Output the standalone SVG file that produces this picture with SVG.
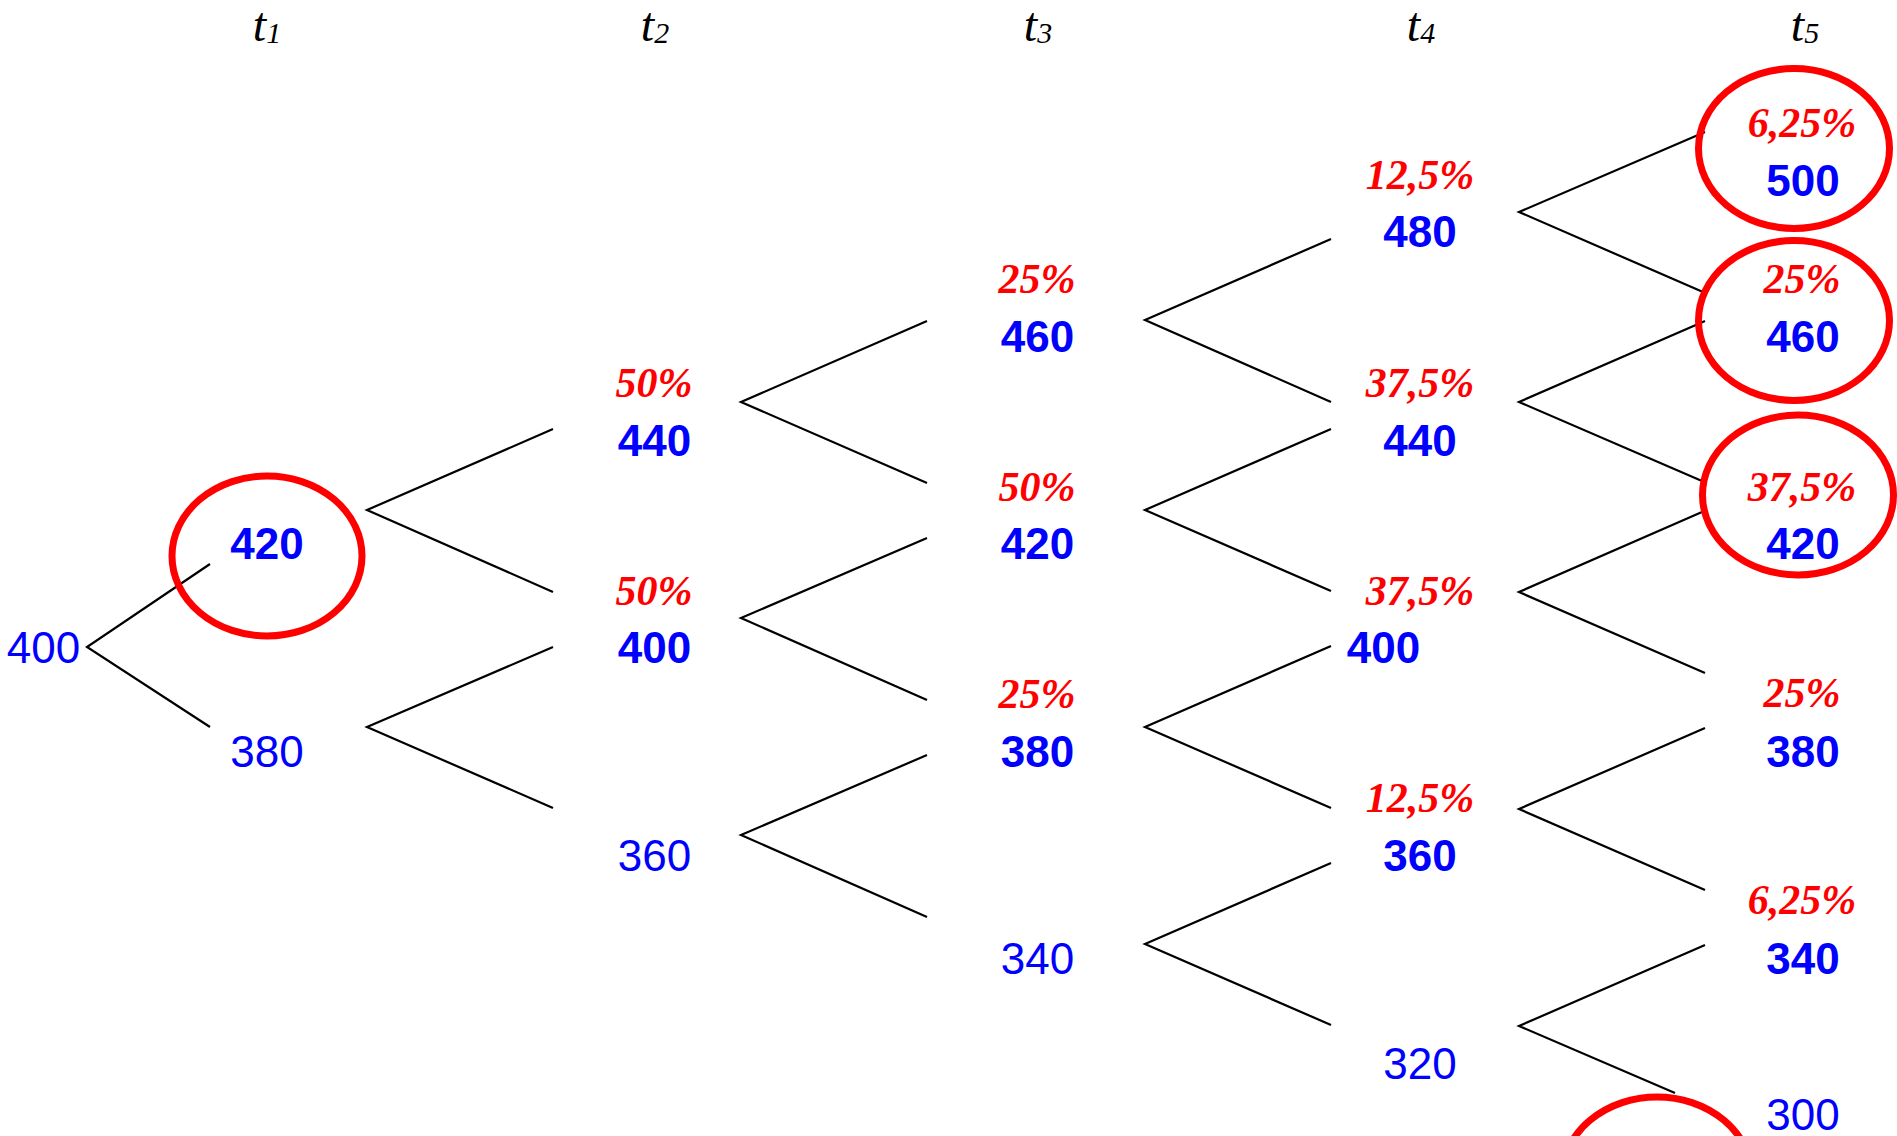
<svg xmlns="http://www.w3.org/2000/svg" width="1897" height="1136" viewBox="0 0 1897 1136">
<style>
.hdr{font-family:"Liberation Serif","Times New Roman",serif;font-style:italic;font-size:48px;fill:#000;text-anchor:middle}
.sub{font-size:30px}
.num{font-family:"Liberation Sans",Arial,sans-serif;font-size:44px;fill:#0000FF;text-anchor:middle}
.b{font-weight:bold}
.pct{font-family:"Liberation Serif","Times New Roman",serif;font-style:italic;font-weight:bold;font-size:42px;fill:#FF0000;text-anchor:middle}
.ring{fill:none;stroke:#FF0000;stroke-width:7}
.fork{fill:none;stroke:#000;stroke-width:2.2;stroke-linejoin:miter}
</style>
<rect width="1897" height="1136" fill="#fff"/>

<g id="headers">
<text class="hdr" x="267" y="41">t<tspan class="sub" dy="2">1</tspan></text>
<text class="hdr" x="655" y="41">t<tspan class="sub" dy="2">2</tspan></text>
<text class="hdr" x="1038" y="41">t<tspan class="sub" dy="2">3</tspan></text>
<text class="hdr" x="1421" y="41">t<tspan class="sub" dy="2">4</tspan></text>
<text class="hdr" x="1805" y="41">t<tspan class="sub" dy="2">5</tspan></text>
</g>

<g id="connectors">
<polyline class="fork" points="210,564 87,647 210,727"/>
<polyline class="fork" points="553,429 367,510 553,592"/>
<polyline class="fork" points="553,647 367,727 553,808"/>
<polyline class="fork" points="927,321 741,402 927,483"/>
<polyline class="fork" points="927,538 741,618 927,700"/>
<polyline class="fork" points="927,755 741,835 927,917"/>
<polyline class="fork" points="1331,239 1145,320 1331,402"/>
<polyline class="fork" points="1331,429 1145,510 1331,591"/>
<polyline class="fork" points="1331,646 1145,727 1331,808"/>
<polyline class="fork" points="1331,863 1145,944 1331,1025"/>
<polyline class="fork" points="1705,132 1519,212 1703,292"/>
<polyline class="fork" points="1705,321 1519,402 1702,481"/>
<polyline class="fork" points="1702,512 1519,592 1705,673"/>
<polyline class="fork" points="1705,728 1519,809 1705,890"/>
<polyline class="fork" points="1705,945 1519,1026 1675,1093"/>
</g>

<g id="n_root"><text class="num" x="43.5" y="663">400</text></g>

<g id="n_t1_420"><text class="num b" x="267" y="559">420</text><ellipse class="ring" cx="267" cy="556" rx="95" ry="80"/></g>
<g id="n_t1_380"><text class="num" x="267" y="767">380</text></g>

<g id="n_t2_440"><text class="pct" x="654" y="397">50%</text><text class="num b" x="654.5" y="456">440</text></g>
<g id="n_t2_400"><text class="pct" x="654" y="605">50%</text><text class="num b" x="654.5" y="663">400</text></g>
<g id="n_t2_360"><text class="num" x="654.5" y="871">360</text></g>

<g id="n_t3_460"><text class="pct" x="1037" y="293">25%</text><text class="num b" x="1037.5" y="352">460</text></g>
<g id="n_t3_420"><text class="pct" x="1037" y="501">50%</text><text class="num b" x="1037.5" y="559">420</text></g>
<g id="n_t3_380"><text class="pct" x="1037" y="708">25%</text><text class="num b" x="1037.5" y="767">380</text></g>
<g id="n_t3_340"><text class="num" x="1037.5" y="974">340</text></g>

<g id="n_t4_480"><text class="pct" x="1420" y="189">12,5%</text><text class="num b" x="1420" y="247">480</text></g>
<g id="n_t4_440"><text class="pct" x="1420" y="397">37,5%</text><text class="num b" x="1420" y="456">440</text></g>
<g id="n_t4_400"><text class="pct" x="1420" y="605">37,5%</text><text class="num b" x="1383.5" y="663">400</text></g>
<g id="n_t4_360"><text class="pct" x="1420" y="812">12,5%</text><text class="num b" x="1420" y="871">360</text></g>
<g id="n_t4_320"><text class="num" x="1420" y="1079">320</text></g>

<g id="n_t5_500"><text class="pct" x="1802" y="137">6,25%</text><text class="num b" x="1803" y="196">500</text><ellipse class="ring" cx="1794" cy="148.5" rx="95.5" ry="80"/></g>
<g id="n_t5_460"><text class="pct" x="1802" y="293">25%</text><text class="num b" x="1803" y="352">460</text><ellipse class="ring" cx="1794" cy="320.5" rx="95.5" ry="80"/></g>
<g id="n_t5_420"><text class="pct" x="1802" y="501">37,5%</text><text class="num b" x="1803" y="559">420</text><ellipse class="ring" cx="1798" cy="495" rx="95.5" ry="80"/></g>
<g id="n_t5_380"><text class="pct" x="1802" y="707">25%</text><text class="num b" x="1803" y="767">380</text></g>
<g id="n_t5_340"><text class="pct" x="1802" y="914">6,25%</text><text class="num b" x="1803" y="974">340</text></g>
<g id="n_t5_300"><text class="num" x="1803" y="1130">300</text><ellipse class="ring" cx="1657" cy="1177" rx="95" ry="80"/></g>
</svg>
